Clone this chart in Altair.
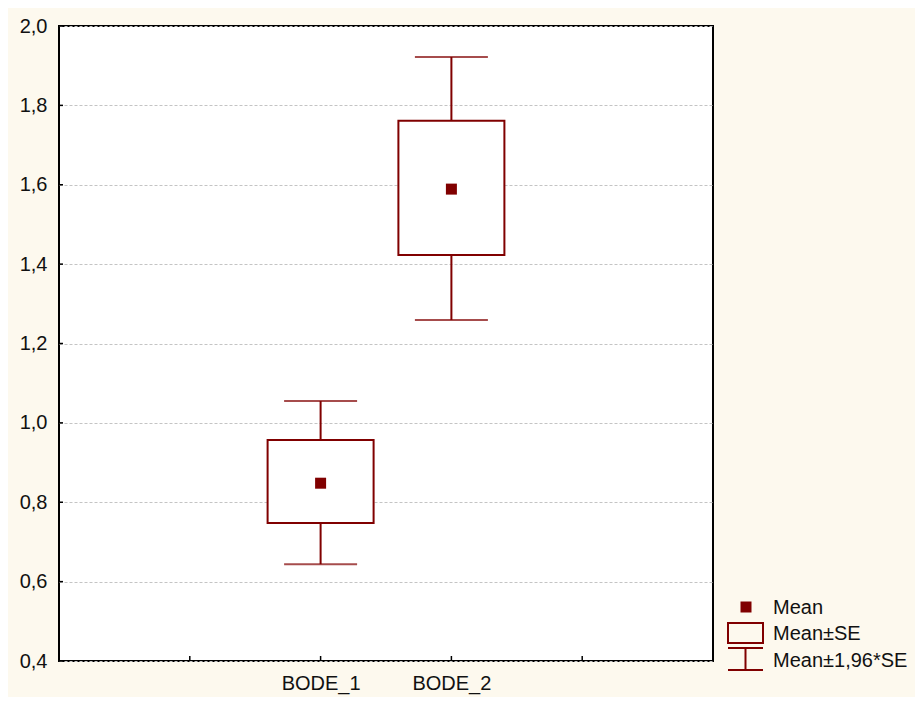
import altair as alt
import pandas as pd

categories = ["BODE_1", "BODE_2"]
means = [0.848, 1.589]
se_low = [0.748, 1.423]
se_high = [0.957, 1.761]
ci_low = [0.644, 1.259]
ci_high = [1.055, 1.922]

x_slots = [" ", "BODE_1", "BODE_2", "  "]
y_ticks = [0.4, 0.6, 0.8, 1.0, 1.2, 1.4, 1.6, 1.8, 2.0]
legend_labels = ["Mean", "Mean\u00b1SE", "Mean\u00b11,96*SE"]

RED = "#800000"
FONT = "Liberation Sans"
FS = 20

df = pd.DataFrame({
    "cat": categories, "mean": means,
    "se_lo": se_low, "se_hi": se_high,
    "ci_lo": ci_low, "ci_hi": ci_high,
})

xscale = alt.Scale(type="point", domain=x_slots, padding=1)
yscale = alt.Scale(domain=[0.4, 2.0], nice=False, zero=False)

xenc = alt.X("cat:N", scale=xscale, title=None,
             axis=alt.Axis(ticks=False, domain=False, labelAngle=0, labelFontSize=FS,
                           labelFont=FONT, labelColor="#111", labelPadding=12, grid=False))
yaxis = alt.Axis(values=y_ticks, ticks=False, domain=False, labelFontSize=FS, labelFont=FONT,
                 labelColor="#111", labelPadding=12,
                 labelExpr="replace(format(datum.value, '.1f'), '.', ',')",
                 grid=True, gridColor="#c4c4c4", gridDash=[3, 2], gridWidth=1)

base = alt.Chart(df)

whisk = base.mark_rule(color=RED, strokeWidth=2).encode(
    x=xenc, y=alt.Y("ci_lo:Q", scale=yscale, axis=yaxis, title=None), y2="ci_hi:Q")
cap_lo = base.mark_tick(color=RED, size=73, thickness=2, orient="horizontal").encode(
    x=alt.X("cat:N", scale=xscale), y=alt.Y("ci_lo:Q", scale=yscale))
cap_hi = base.mark_tick(color=RED, size=73, thickness=2, orient="horizontal").encode(
    x=alt.X("cat:N", scale=xscale), y=alt.Y("ci_hi:Q", scale=yscale))
box = base.mark_bar(size=106, fill="white", stroke=RED, strokeWidth=2).encode(
    x=alt.X("cat:N", scale=xscale), y=alt.Y("se_lo:Q", scale=yscale), y2="se_hi:Q")
pt = base.mark_point(shape="square", filled=True, size=121, color=RED, opacity=1, strokeWidth=0).encode(
    x=alt.X("cat:N", scale=xscale), y=alt.Y("mean:Q", scale=yscale))

# inward ticks
xt = alt.Chart(pd.DataFrame({"cat": x_slots})).mark_rule(color="black", strokeWidth=1.5).encode(
    x=alt.X("cat:N", scale=xscale), y=alt.value(635), y2=alt.value(630))
yt = alt.Chart(pd.DataFrame({"v": y_ticks})).mark_rule(color="black", strokeWidth=1.5).encode(
    y=alt.Y("v:Q", scale=yscale), x=alt.value(0), x2=alt.value(4))

# legend
def one(label):
    return alt.Chart(pd.DataFrame({"label": [label]}))

lg_pt = one(legend_labels[0]).mark_square(size=121, color=RED, opacity=1).encode(
    x=alt.value(687), y=alt.value(581))
lg_rect = one(legend_labels[1]).mark_rect(fill=None, fillOpacity=0, stroke=RED, strokeWidth=2).encode(
    x=alt.value(669), x2=alt.value(704), y=alt.value(597), y2=alt.value(617))
lg_v = one(legend_labels[2]).mark_rule(color=RED, strokeWidth=2).encode(
    x=alt.value(686.5), y=alt.value(622), y2=alt.value(644))
lg_c1 = one(legend_labels[2]).mark_rule(color=RED, strokeWidth=2).encode(
    x=alt.value(669), x2=alt.value(704), y=alt.value(622))
lg_c2 = one(legend_labels[2]).mark_rule(color=RED, strokeWidth=2).encode(
    x=alt.value(669), x2=alt.value(704), y=alt.value(644))
text_y = [582, 608, 635]
lg_texts = [
    one(lbl).mark_text(align="left", baseline="middle", fontSize=FS, font=FONT, color="#111").encode(
        text="label:N", x=alt.value(714), y=alt.value(ty))
    for lbl, ty in zip(legend_labels, text_y)
]

chart = alt.layer(whisk, cap_lo, cap_hi, box, pt, xt, yt,
                  lg_pt, lg_rect, lg_v, lg_c1, lg_c2, *lg_texts).properties(
    width=654, height=635,
    autosize=alt.AutoSizeParams(type="none"),
    padding={"left": 51, "top": 18, "right": 202, "bottom": 36},
    background="#FDF9EE",
).configure_view(fill="white", stroke="black", strokeWidth=2)

chart.save("out.html", embed_options={"renderer": "svg", "actions": False})
